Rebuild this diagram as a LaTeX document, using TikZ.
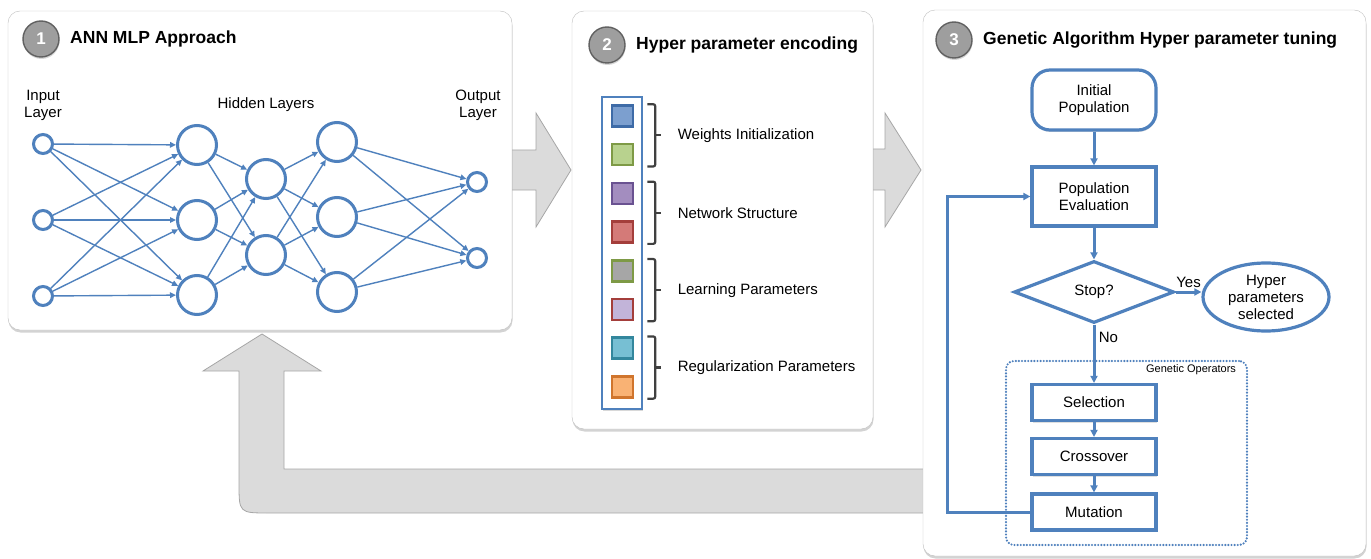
\documentclass[tikz,border=0pt]{standalone}
\usepackage{fontspec}
\setmainfont{Liberation Sans}
\usetikzlibrary{arrows.meta}
\usetikzlibrary{shapes.geometric, shadows, positioning, calc}

\definecolor{netblue}{HTML}{4F81BD}
\definecolor{brkgray}{HTML}{404040}
\definecolor{gaF}{HTML}{7C9FCF}\definecolor{gaD}{HTML}{3E6BA7}
\definecolor{gbF}{HTML}{B8D28E}\definecolor{gbD}{HTML}{7E9A46}
\definecolor{gcF}{HTML}{A38DBF}\definecolor{gcD}{HTML}{6A5291}
\definecolor{gdF}{HTML}{D47A78}\definecolor{gdD}{HTML}{A43E3B}
\definecolor{geF}{HTML}{A6A6A6}\definecolor{geD}{HTML}{7E9A46}
\definecolor{gfF}{HTML}{C2B4D9}\definecolor{gfD}{HTML}{A43E3B}
\definecolor{ggF}{HTML}{77BFD3}\definecolor{ggD}{HTML}{33879D}
\definecolor{ghF}{HTML}{F9B274}\definecolor{ghD}{HTML}{D0752D}

\begin{document}
\begin{tikzpicture}[x=1pt, y=-1pt, >={Triangle[length=7pt,width=7pt]}, font=\fontsize{15}{17}\selectfont]
	\tikzstyle{panel}=[draw=black!25, fill=white, rounded corners=12, drop shadow={shadow xshift=0.5pt, shadow yshift=-2.5pt, opacity=.35}]
	\tikzstyle{bigarrow}=[fill=black!14, draw=black!35, line width=0.8pt]
	\tikzstyle{num}=[circle, fill=black!38, draw=black!62, line width=1.4pt, minimum size=36, inner sep=0, text=white, font=\bfseries\fontsize{17}{17}\selectfont, drop shadow={shadow xshift=0.5pt, shadow yshift=-2pt, opacity=.3}]
	\tikzstyle{title}=[font=\bfseries\fontsize{17.5}{20}\selectfont]
	\tikzstyle{neuron}=[circle, draw=netblue, fill=white, line width=3pt, inner sep=0]
	\tikzstyle{syn}=[-{Triangle[length=6pt,width=5.5pt]}, draw=netblue, line width=1.4pt]
	\tikzstyle{chrom}=[draw=netblue, fill=white, line width=2.6pt, minimum width=40, minimum height=312, drop shadow={shadow xshift=0.5pt, shadow yshift=-2pt, opacity=.3}]
	\tikzstyle{gene}=[minimum size=21, inner sep=0, line width=2.5pt]
	\tikzstyle{brk}=[draw=brkgray, line width=2.2pt, rounded corners=2]
	\tikzstyle{flowbox}=[draw=netblue, fill=white, line width=3.2pt, minimum width=124, align=center, drop shadow={shadow xshift=0.5pt, shadow yshift=-2pt, opacity=.25}]
	\tikzstyle{term}=[flowbox, rounded corners=18, minimum height=60]
	\tikzstyle{opbox}=[flowbox, minimum height=36]
	\tikzstyle{decision}=[diamond, draw=netblue, fill=white, line width=3.2pt, aspect=2.6, inner sep=0, minimum width=160, minimum height=62]
	\tikzstyle{result}=[ellipse, draw=netblue, fill=white, line width=3.2pt, align=center, minimum width=126, minimum height=68, inner xsep=0, inner ysep=-4pt]
	\tikzstyle{ops}=[draw=netblue, line width=2.4pt, dash pattern=on 0pt off 3.1pt, line cap=round, rounded corners=8, minimum width=241, minimum height=184]
	\tikzstyle{flow}=[->, draw=netblue, line width=3pt]

	\useasboundingbox (0,0) rectangle (1371,559);

	% block arrows, behind the panels
	\draw[bigarrow] (500,150) -- (536,150) -- (536,113) -- (571,170) -- (536,227) -- (536,190) -- (500,190) -- cycle;
	\draw[bigarrow] (860,149) -- (885,149) -- (885,113) -- (921,170) -- (885,227) -- (885,190) -- (860,190) -- cycle;
	\draw[bigarrow] (262,334) -- (321,371) -- (284,371) -- (284,469) -- (940,469) -- (940,513) -- (269,513) .. controls (239,513) .. (239,483) -- (239,371) -- (203,371) -- cycle;

	\node[panel, minimum width=504, minimum height=319] (p1) at (260,170.5) {};
	\node[panel, minimum width=301, minimum height=418] (p2) at (722.5,220) {};
	\node[panel, minimum width=443, minimum height=546] (p3) at (1144.5,283) {};

	\node[num] (n1) at (41,39) {1};
	\node[title, right=7pt of n1] (t1) {ANN MLP Approach};
	\node[num] (n2) at (607,45) {2};
	\node[title, right=7pt of n2] (t2) {Hyper parameter encoding};
	\node[num] (n3) at (954,40) {3};
	\node[title, right=7pt of n3] (t3) {Genetic Algorithm Hyper parameter tuning};

	% 1: network
	\foreach \y [count=\k] in {144,220,296} \node[neuron, minimum size=19] (i\k) at (43,\y) {};
	\foreach \y [count=\k] in {145,220,295} \node[neuron, minimum size=39] (a\k) at (197,\y) {};
	\foreach \y [count=\k] in {179,255} \node[neuron, minimum size=39] (b\k) at (266,\y) {};
	\foreach \y [count=\k] in {142,217,292} \node[neuron, minimum size=39] (c\k) at (337,\y) {};
	\foreach \y [count=\k] in {182,258} \node[neuron, minimum size=19] (o\k) at (477,\y) {};

	\foreach \s in {1,2,3} \foreach \t in {1,2,3} \draw[syn] (i\s) -- (a\t);
	\foreach \s in {1,2,3} \foreach \t in {1,2} \draw[syn] (a\s) -- (b\t);
	\foreach \s in {1,2} \foreach \t in {1,2,3} \draw[syn] (b\s) -- (c\t);
	\foreach \s in {1,2,3} \foreach \t in {1,2} \draw[syn] (c\s) -- (o\t);

	\node[align=center] (lin) at (43,105.5) {Input\\Layer};
	\node (lhid) at (266,105) {Hidden Layers};
	\node[align=center] (lout) at (478,105.5) {Output\\Layer};

	% 2: encoding
	\node[chrom] (chrom) at (622,253) {};
	\foreach \f/\d [count=\k] in {gaF/gaD, gbF/gbD, gcF/gcD, gdF/gdD, geF/geD, gfF/gfD, ggF/ggD, ghF/ghD}
		\node[gene, fill=\f, draw=\d] (s\k) at (622.5,{77.3+38.7*\k}) {};

	\foreach \a/\b/\txt in {1/2/Weights Initialization, 3/4/Network Structure, 5/6/Learning Parameters, 7/8/Regularization Parameters} {
		\coordinate (m\a) at ($(s\a.east)!0.5!(s\b.east)$);
		\draw[brk] ([xshift=13pt]s\a.north east) -| ([xshift=21pt]m\a) |- ([xshift=13pt]s\b.south east);
		\draw[brk] ([xshift=21pt]m\a) -- ++(6,0);
		\node[anchor=west] (g\a) at ([xshift=40pt]m\a) {\txt};
	}

	% 3: genetic algorithm
	\node[ops] (ops) at (1126.5,453) {};
	\node[font=\fontsize{11}{13}\selectfont, anchor=north east, inner sep=2pt] (opslbl) at ([xshift=-10pt,yshift=-3pt]ops.north east) {Genetic Operators};

	\node[term] (init) at (1094,100) {Initial\\Population};
	\node[flowbox, minimum height=59] (eval) at (1094,196.5) {Population\\Evaluation};
	\node[decision] (stop) at (1094,292) {Stop?};
	\node[result] (hyp) at (1266,297) {Hyper\\parameters\\selected};
	\node[opbox] (sel) at (1094,402.5) {Selection};
	\node[opbox] (cross) at (1094,456.5) {Crossover};
	\node[opbox] (mut) at (1094,512) {Mutation};
	\coordinate (fb) at (947,0);

	\draw[flow] (init) -- (eval);
	\draw[flow] (eval) -- (stop);
	\draw[flow] (stop) -- node[right, pos=0.22] (no) {No} (sel);
	\draw[flow] (stop.east) -- node[above] (yes) {Yes} (stop.east -| hyp.west);
	\draw[flow] (sel) -- (cross);
	\draw[flow] (cross) -- (mut);
	\draw[flow] (mut.west) -- (mut.west -| fb) |- (eval.west);
\end{tikzpicture}
\end{document}
